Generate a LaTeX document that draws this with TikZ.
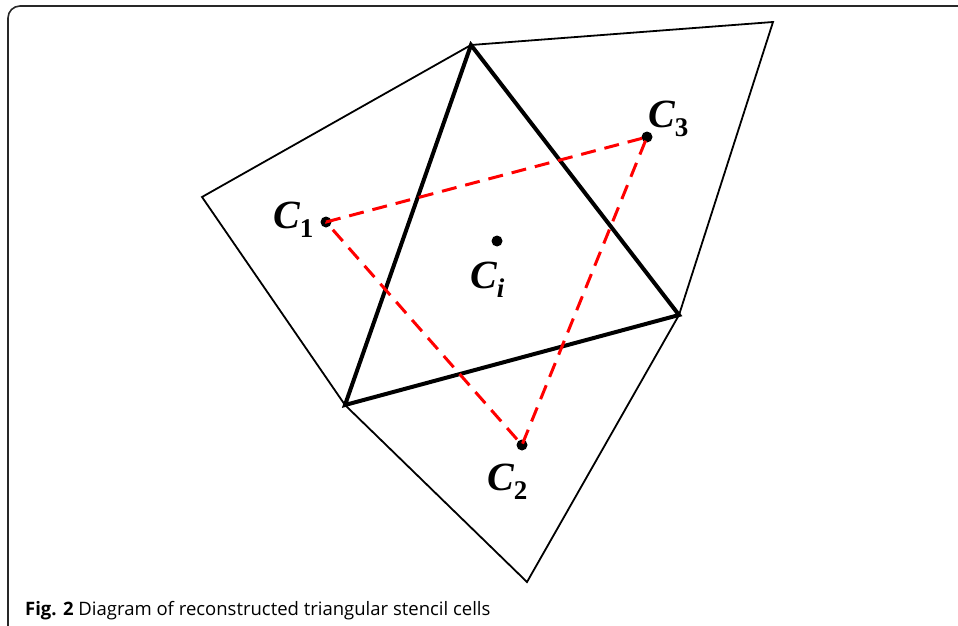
\documentclass[tikz,border=0pt]{standalone}
\usepackage{fontspec}
\setmainfont{Liberation Serif}
\newfontfamily\labelfont{Liberation Serif}
\newfontfamily\captionfont{Open Sans}
\usetikzlibrary{positioning}
\definecolor{frame}{RGB}{40,40,40}
\definecolor{stencil}{RGB}{255,0,0}
\newcommand{\cname}[1]{C\raisebox{-9pt}{\fontsize{27}{27}\selectfont #1}}

\begin{document}
\begin{tikzpicture}[x=1pt, y=-1pt,
  cell/.style={draw=black, line width=1.8pt, line join=miter},
  target/.style={draw=black, line width=4pt, line join=miter},
  link/.style={draw=stencil, line width=3pt, dash pattern=on 15pt off 9pt},
  centre/.style={circle, fill=black, inner sep=0pt, minimum size=11pt},
  lbl/.style={font=\labelfont\fontsize{40}{42}\selectfont\bfseries\itshape, inner sep=0pt, anchor=base west}]
  \useasboundingbox (0,0) rectangle (958,626);
  % frame of the figure
  \draw[frame, line width=1.6pt, rounded corners=12pt] (8,640) -- (8,6) -- (970,6);
  % vertices of the stencil
  \coordinate (top) at (471,45);
  \coordinate (right) at (679,315);
  \coordinate (low) at (345,405);
  \coordinate (west) at (202,197);
  \coordinate (north) at (773,22);
  \coordinate (south) at (527,582);
  % neighbour cells
  \draw[cell] (top) -- (west) -- (low);
  \draw[cell] (top) -- (north) -- (right);
  \draw[cell] (low) -- (south) -- (right);
  % reconstructed cell
  \draw[target] (top) -- (right) -- (low) -- cycle;
  % centroids
  \node[centre] (c1) at (326,222) {};
  \node[centre] (c2) at (522,445) {};
  \node[centre] (c3) at (647,137) {};
  \node[centre] (ci) at (497,241) {};
  \draw[link] (c1.center) -- (c3.center) -- (c2.center) -- cycle;
  \node[lbl] (l1) at (273,228) {\cname{\upshape 1}};
  \node[lbl] (li) at (470,288) {\cname{i}};
  \node[lbl] (l2) at (487,490) {\cname{\upshape 2}};
  \node[lbl] (l3) at (648,127) {\cname{\upshape 3}};
  % caption
  \node[font=\captionfont\fontsize{18.5}{21}\selectfont, anchor=base west, inner sep=0pt]
    (cap) at (25,615) {\textbf{Fig. 2} Diagram of reconstructed triangular stencil cells};
\end{tikzpicture}
\end{document}
